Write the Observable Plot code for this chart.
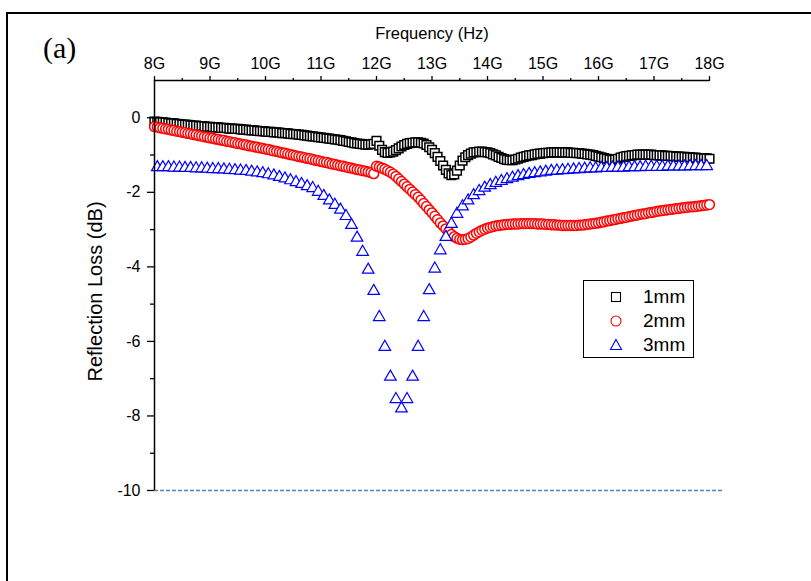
<!DOCTYPE html>
<html>
<head>
<meta charset="utf-8">
<script src="https://cdn.jsdelivr.net/npm/d3@7"></script>
<script src="https://cdn.jsdelivr.net/npm/@observablehq/plot@0.6"></script>
<style>
  html, body { margin: 0; padding: 0; background: #fff; }
  #wrap { position: relative; width: 811px; height: 581px; overflow: hidden; font-family: "Liberation Sans", Arial, sans-serif; }
  #frame { position: absolute; left: 6px; top: 12px; right: -10px; bottom: -10px; border-left: 2px solid #000; border-top: 2px solid #000; pointer-events: none; }
  #panel { position: absolute; left: 43px; top: 33px; font-family: "Liberation Serif", "Times New Roman", serif; font-size: 30px; line-height: 30px; color: #000; }
  #legend { position: absolute; left: 583px; top: 280px; width: 109px; height: 76px; border: 1px solid #000; background: #fff; }
  .item { position: absolute; left: 0; height: 22px; width: 109px; font-size: 19px; line-height: 22px; }
  .item svg { position: absolute; left: 24px; top: 3px; width: 16px; height: 16px; }
  .item span { position: absolute; left: 59px; top: 0; }
</style>
</head>
<body>
<div id="wrap">
  <div id="chart"></div>
  <div id="frame"></div>
  <div id="panel">(a)</div>
  <div id="legend"></div>
</div>
<script>
// ---------- data ----------
const seriesNames = ["1mm", "2mm", "3mm"];
const seriesColors = ["#000000", "#ff0000", "#0000ff"];
const seriesSymbols = ["square", "circle", "triangle"];

// Frequency grid for 1mm / 2mm (8 – 18 GHz, 0.05 GHz step, 201 points)
const freqDense = d3.range(201).map(i => +(8 + i * 0.05).toFixed(2));
// Frequency grid for 3mm (0.1 GHz step, 100 points)
const freq3mm = d3.range(100).map(i => +(8.05 + i * 0.1).toFixed(2));

const loss1mm = [
  // 8.00 – 11.95
  -0.10,-0.11,-0.12,-0.12,-0.13,-0.14,-0.15,-0.15,-0.16,-0.17,
  -0.18,-0.18,-0.19,-0.20,-0.21,-0.21,-0.22,-0.22,-0.23,-0.24,
  -0.24,-0.25,-0.26,-0.26,-0.27,-0.27,-0.28,-0.29,-0.29,-0.30,
  -0.30,-0.31,-0.32,-0.32,-0.33,-0.34,-0.34,-0.35,-0.36,-0.36,
  -0.37,-0.38,-0.38,-0.39,-0.39,-0.40,-0.41,-0.41,-0.42,-0.43,
  -0.44,-0.44,-0.45,-0.46,-0.47,-0.48,-0.49,-0.50,-0.51,-0.52,
  -0.53,-0.54,-0.55,-0.56,-0.57,-0.58,-0.59,-0.60,-0.62,-0.63,
  -0.65,-0.66,-0.68,-0.69,-0.70,-0.71,-0.72,-0.72,-0.71,-0.70,
  // 12.00 – 18.00
  -0.62,-0.75,-0.86,-0.92,-0.94,-0.93,-0.91,-0.87,-0.82,-0.77,
  -0.73,-0.70,-0.68,-0.67,-0.66,-0.66,-0.67,-0.69,-0.73,-0.79,
  -0.86,-0.95,-1.05,-1.16,-1.28,-1.40,-1.49,-1.54,-1.52,-1.42,
  -1.28,-1.15,-1.06,-1.00,-0.96,-0.93,-0.92,-0.91,-0.91,-0.92,
  -0.93,-0.95,-0.98,-1.01,-1.05,-1.08,-1.11,-1.13,-1.14,-1.14,
  -1.12,-1.10,-1.07,-1.05,-1.03,-1.01,-1.00,-0.98,-0.97,-0.96,
  -0.95,-0.94,-0.94,-0.93,-0.93,-0.93,-0.93,-0.93,-0.93,-0.93,
  -0.94,-0.94,-0.95,-0.95,-0.96,-0.97,-0.98,-0.99,-1.00,-1.02,
  -1.04,-1.06,-1.08,-1.10,-1.12,-1.13,-1.12,-1.10,-1.07,-1.05,
  -1.03,-1.02,-1.01,-1.00,-0.99,-0.99,-0.99,-0.99,-0.99,-0.99,
  -1.00,-1.00,-1.01,-1.01,-1.02,-1.02,-1.03,-1.03,-1.04,-1.04,
  -1.05,-1.05,-1.06,-1.06,-1.07,-1.07,-1.08,-1.08,-1.09,-1.09,
  -1.10
];

const loss2mm = [
  // 8.00 – 11.95
  -0.24,-0.25,-0.27,-0.28,-0.30,-0.31,-0.33,-0.34,-0.36,-0.37,
  -0.39,-0.40,-0.42,-0.43,-0.45,-0.46,-0.48,-0.49,-0.51,-0.52,
  -0.54,-0.55,-0.57,-0.58,-0.60,-0.61,-0.63,-0.64,-0.66,-0.67,
  -0.69,-0.70,-0.72,-0.73,-0.75,-0.76,-0.78,-0.79,-0.81,-0.82,
  -0.84,-0.85,-0.87,-0.89,-0.90,-0.92,-0.94,-0.95,-0.97,-0.99,
  -1.00,-1.02,-1.04,-1.05,-1.07,-1.09,-1.10,-1.12,-1.14,-1.15,
  -1.17,-1.19,-1.20,-1.22,-1.24,-1.25,-1.27,-1.29,-1.30,-1.32,
  -1.34,-1.35,-1.37,-1.39,-1.40,-1.42,-1.43,-1.45,-1.47,-1.50,
  // 12.00 – 18.00
  -1.30,-1.32,-1.35,-1.38,-1.42,-1.46,-1.51,-1.57,-1.64,-1.71,
  -1.78,-1.85,-1.92,-1.99,-2.06,-2.13,-2.21,-2.30,-2.38,-2.47,
  -2.55,-2.64,-2.73,-2.82,-2.90,-2.98,-3.06,-3.13,-3.19,-3.23,
  -3.26,-3.27,-3.26,-3.24,-3.20,-3.15,-3.10,-3.06,-3.02,-2.99,
  -2.96,-2.94,-2.92,-2.90,-2.89,-2.88,-2.87,-2.86,-2.86,-2.85,
  -2.85,-2.85,-2.84,-2.84,-2.84,-2.84,-2.84,-2.84,-2.85,-2.85,
  -2.85,-2.86,-2.86,-2.87,-2.87,-2.88,-2.88,-2.89,-2.89,-2.89,
  -2.89,-2.89,-2.89,-2.88,-2.88,-2.87,-2.86,-2.85,-2.84,-2.83,
  -2.82,-2.80,-2.79,-2.77,-2.76,-2.74,-2.73,-2.71,-2.70,-2.68,
  -2.67,-2.65,-2.64,-2.62,-2.61,-2.59,-2.58,-2.57,-2.55,-2.54,
  -2.53,-2.51,-2.50,-2.49,-2.48,-2.47,-2.46,-2.45,-2.44,-2.43,
  -2.42,-2.41,-2.40,-2.39,-2.39,-2.38,-2.37,-2.36,-2.35,-2.34,
  -2.33
];

const loss3mm = [
  -1.33,-1.33,-1.33,-1.34,-1.34,-1.35,-1.35,-1.36,-1.36,-1.37,
  -1.38,-1.38,-1.39,-1.40,-1.41,-1.42,-1.43,-1.45,-1.47,-1.49,
  -1.52,-1.55,-1.59,-1.63,-1.68,-1.73,-1.78,-1.84,-1.89,-1.99,
  -2.10,-2.22,-2.34,-2.47,-2.64,-2.88,-3.22,-3.60,-4.08,-4.65,
  -5.35,-6.15,-6.95,-7.55,-7.80,-7.55,-6.95,-6.15,-5.35,-4.63,
  -4.05,-3.56,-3.20,-2.85,-2.58,-2.38,-2.22,-2.08,-1.97,-1.88,
  -1.81,-1.75,-1.70,-1.65,-1.61,-1.57,-1.54,-1.51,-1.49,-1.47,
  -1.45,-1.43,-1.42,-1.41,-1.40,-1.39,-1.38,-1.37,-1.36,-1.36,
  -1.35,-1.35,-1.34,-1.34,-1.34,-1.33,-1.33,-1.33,-1.32,-1.32,
  -1.32,-1.32,-1.31,-1.31,-1.31,-1.31,-1.30,-1.30,-1.30,-1.30
];

const xTicks = [8, 9, 10, 11, 12, 13, 14, 15, 16, 17, 18];
const xTickLabels = ["8G","9G","10G","11G","12G","13G","14G","15G","16G","17G","18G"];
const xMinorTicks = [8.5, 9.5, 10.5, 11.5, 12.5, 13.5, 14.5, 15.5, 16.5, 17.5];
const yTicks = [0, -2, -4, -6, -8, -10];
const yMinorTicks = [-1, -3, -5, -7, -9];
const xDomain = [8, 18];
const yDomain = [-10, 1];
const thresholdLevel = [-10];
const thresholdEnd = 18.25;

const xTitle = "Frequency (Hz)";
const yTitle = "Reflection Loss (dB)";

// ---------- build tables ----------
const d1 = freqDense.map((f, i) => ({f, v: loss1mm[i]}));
const d2 = freqDense.map((f, i) => ({f, v: loss2mm[i]}));
const d3mm = freq3mm.map((f, i) => ({f, v: loss3mm[i]}));

const font = "'Liberation Sans', Arial, sans-serif";

const chart = Plot.plot({
  width: 811,
  height: 581,
  marginLeft: 154,
  marginRight: 102,
  marginTop: 80,
  marginBottom: 91,
  x: {domain: xDomain},
  y: {domain: yDomain},
  style: {fontFamily: font, fontSize: "16px", color: "#000", background: "transparent", overflow: "visible"},
  marks: [
    Plot.ruleY(thresholdLevel, {x1: xDomain[0], x2: thresholdEnd, stroke: "#4f81bd", strokeWidth: 1.6, strokeDasharray: "4,2"}),
    Plot.dot(d1, {x: "f", y: "v", symbol: seriesSymbols[0], r: 4.9, stroke: seriesColors[0], fill: "#fff", strokeWidth: 1.5}),
    Plot.dot(d2, {x: "f", y: "v", symbol: seriesSymbols[1], r: 4.9, stroke: seriesColors[1], fill: "#fff", strokeWidth: 1.5}),
    Plot.dot(d3mm, {x: "f", y: "v", symbol: seriesSymbols[2], r: 4.3, stroke: seriesColors[2], fill: "#fff", strokeWidth: 1.2}),
    // axis lines
    Plot.ruleY([yDomain[1]], {stroke: "#000", strokeWidth: 1.5}),
    Plot.ruleX([xDomain[0]], {stroke: "#000", strokeWidth: 1.5}),
    // top x axis
    Plot.axisX(xTicks, {anchor: "top", tickSize: 5, tickPadding: 7, strokeWidth: 1.3, fontSize: 16,
      tickFormat: d => xTickLabels[xTicks.indexOf(d)], label: null}),
    Plot.axisX(xMinorTicks, {anchor: "top", tickSize: 3, strokeWidth: 1.3, tickFormat: () => "", label: null}),
    // left y axis
    Plot.axisY(yTicks, {anchor: "left", tickSize: 7, tickPadding: 7, strokeWidth: 1.3, fontSize: 16,
      tickFormat: d => String(d), label: null}),
    Plot.axisY(yMinorTicks, {anchor: "left", tickSize: 4, strokeWidth: 1.3, tickFormat: () => "", label: null}),
    // titles
    Plot.text([xTitle], {frameAnchor: "top", dy: -47, text: d => d, fontSize: 16.5, lineAnchor: "middle", textAnchor: "middle"}),
    Plot.text([yTitle], {frameAnchor: "left", dx: -59, dy: 6, rotate: -90, text: d => d, fontSize: 20, lineAnchor: "middle", textAnchor: "middle"})
  ]
});
document.getElementById("chart").appendChild(chart);

// ---------- legend ----------
const legend = document.getElementById("legend");
const symPaths = {
  square: '<rect x="3.5" y="3.5" width="9" height="9" fill="none" stroke="COL" stroke-width="1.1"/>',
  circle: '<circle cx="8" cy="8" r="5" fill="none" stroke="COL" stroke-width="1.1"/>',
  triangle: '<path d="M8 2.5 L13.5 12.5 L2.5 12.5 Z" fill="none" stroke="COL" stroke-width="1.1"/>'
};
seriesNames.forEach((name, i) => {
  const div = document.createElement("div");
  div.className = "item";
  div.style.top = (5 + i * 24) + "px";
  div.innerHTML = '<svg viewBox="0 0 16 16">' + symPaths[seriesSymbols[i]].replace("COL", seriesColors[i]) + '</svg><span>' + name + '</span>';
  legend.appendChild(div);
});
</script>
</body>
</html>
